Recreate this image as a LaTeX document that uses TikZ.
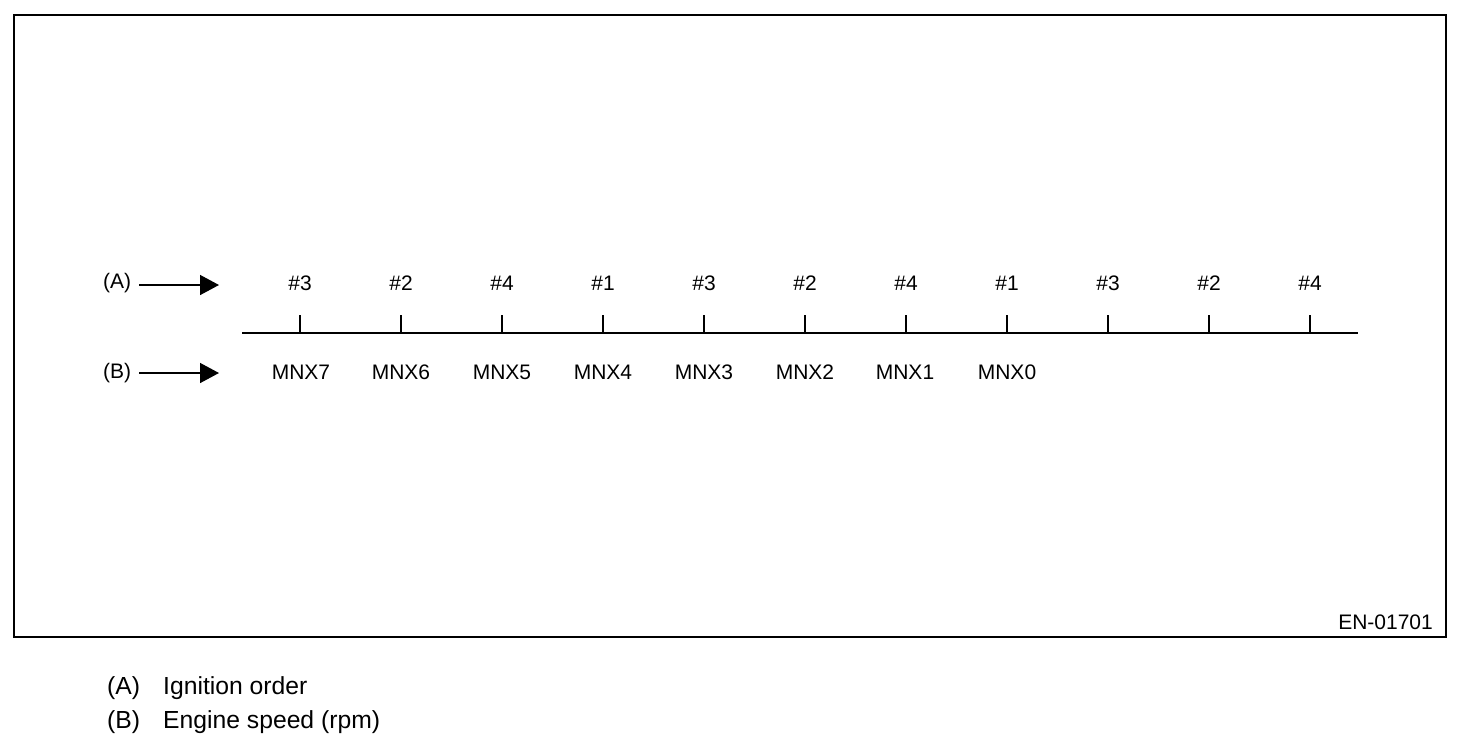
\documentclass[tikz,border=0pt]{standalone}
\usepackage{fontspec}
\setmainfont{Liberation Sans}
\usetikzlibrary{arrows.meta}
\begin{document}
\begin{tikzpicture}[x=1pt,y=-1pt,
  lbl/.style={font=\fontsize{21}{25}\selectfont, inner sep=0pt, anchor=center},
  foot/.style={font=\fontsize{24.7}{30}\selectfont, inner sep=0pt, anchor=west},
  ptr/.style={line width=1.5pt, -{Triangle[length=19pt,width=20pt]}},
  tick/.style={line width=1.5pt}]
\useasboundingbox (0,0) rectangle (1472,748);
\draw[line width=2pt] (14,15) rectangle (1446,637);
% axis
\coordinate (axL) at (242,333);
\coordinate (axR) at (1358,333);
\draw[line width=2pt] (axL) -- (axR);
\foreach \i/\c [count=\k from 0] in {300/3,401/2,502/4,603/1,704/3,805/2,906/4,1007/1,1108/3,1209/2,1310/4}{
  \coordinate (t\k) at (\i,333);
  \coordinate (tt\k) at (\i,315);
  \draw[tick] (t\k) -- (tt\k);
  \node[lbl] (c\k) at (\i,283) {\#\c};
}
\foreach \i/\m [count=\k from 0] in {301/7,401/6,502/5,603/4,704/3,805/2,905/1,1007/0}{
  \node[lbl] (m\k) at (\i,372) {MNX\m};
}
\node[lbl, anchor=west] (A) at (103,283) {(A)};
\node[lbl, anchor=west] (B) at (103,373) {(B)};
\coordinate (Aend) at (219,285);
\coordinate (Bend) at (219,373);
\draw[ptr] ([xshift=8pt]A.east |- Aend) -- (Aend);
\draw[ptr] ([xshift=8pt]B.east |- Bend) -- (Bend);
\node[lbl, anchor=east] (en) at (1433,622) {EN-01701};
% footer
\node[foot] (fa) at (107,688) {(A)};
\node[foot] (fat) at (163,688) {Ignition order};
\node[foot] (fb) at (107,722) {(B)};
\node[foot] (fbt) at (163,722) {Engine speed (rpm)};
\end{tikzpicture}
\end{document}
